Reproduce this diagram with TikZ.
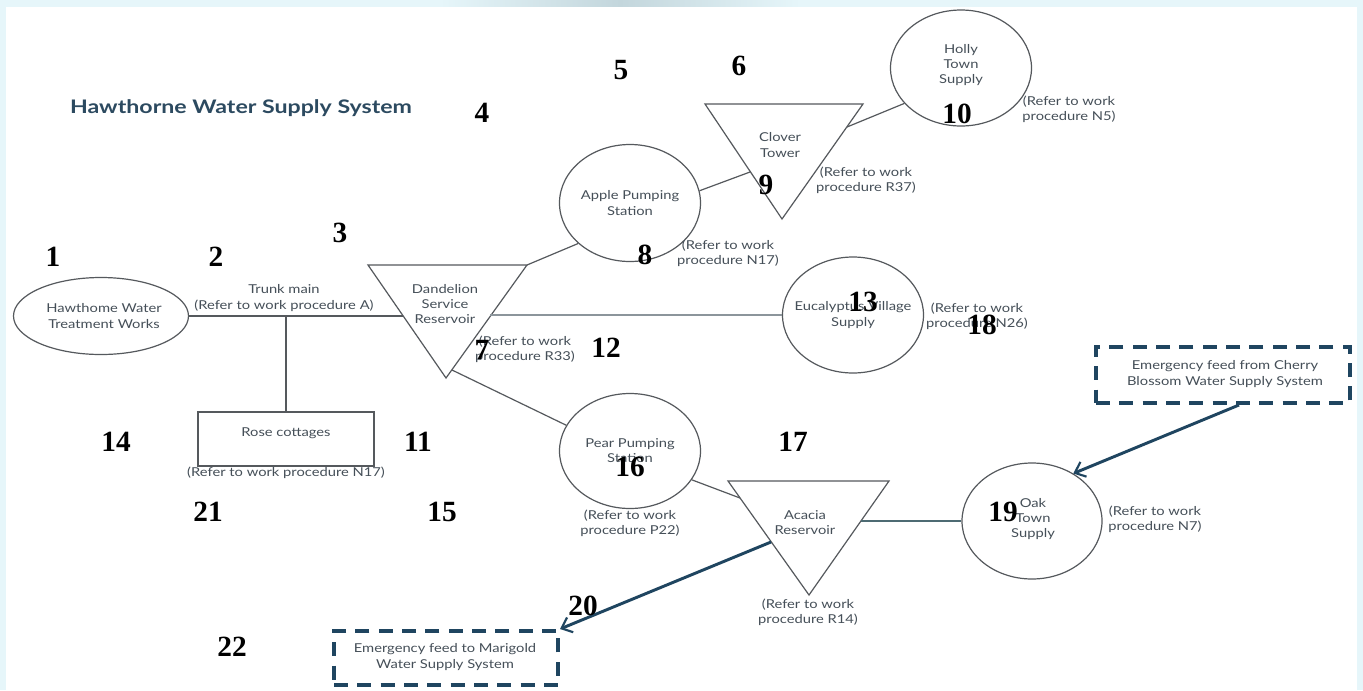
\documentclass[tikz,border=0pt]{standalone}
\usepackage{fontspec}
\setmainfont{Lato}
\newfontfamily\numfont{Liberation Serif}
\usetikzlibrary{arrows.meta,shapes.geometric}
\definecolor{txt}{HTML}{454F58}
\definecolor{edge}{HTML}{55595D}
\definecolor{lightedge}{HTML}{8C959B}
\definecolor{tealedge}{HTML}{4D6B73}
\definecolor{navy}{HTML}{1F4560}
\definecolor{titlec}{HTML}{2C4A60}
\definecolor{bgc}{HTML}{E6F6FA}
\definecolor{bandc}{HTML}{C3D6DC}
\newcommand{\sx}[1]{\scalebox{1.2}[1]{#1}}
\begin{document}
\begin{tikzpicture}[x=0.75pt,y=-0.75pt,
  lbl/.style={font=\fontsize{9.2}{11.3}\selectfont, text=txt, align=center, inner sep=0pt},
  num/.style={font=\numfont\bfseries\fontsize{22}{22}\selectfont, text=black, inner sep=0pt},
  station/.style={draw=edge, line width=0.9pt, ellipse, inner sep=0pt},
  pipe/.style={draw=edge, line width=0.9pt},
  tank/.style={draw=edge, line width=0.9pt, line join=miter},
  feedbox/.style={draw=navy, line width=3pt, dash pattern=on 10.5pt off 7pt, inner sep=0pt, fill=white},
  feedline/.style={draw=navy, line width=2.2pt, -{Straight Barb[length=7pt,width=12pt,line width=1.6pt]}}
]
\useasboundingbox (0,0) rectangle (1363,690);
% background
\fill[bgc] (0,0) rectangle (1363,690);
\shade[left color=bgc, right color=bgc, middle color=bandc] (440,0) rectangle (800,7);
\fill[white] (6,7) rectangle (1357,690);

% title
\node[font=\bfseries\fontsize{14}{15}\selectfont, text=titlec, inner sep=0pt] (title) at (241,108) {\scalebox{1.24}[1]{Hawthorne Water Supply System}};

% stations (ellipses)
\node[station, minimum width=131.25pt, minimum height=57.75pt] (hwtw) at (101,316) {};
\node[station, minimum width=105.75pt, minimum height=87.75pt] (apple) at (630,203) {};
\node[station, minimum width=105.75pt, minimum height=87pt] (holly) at (961,68) {};
\node[station, minimum width=105.75pt, minimum height=87pt] (euc) at (853,315) {};
\node[station, minimum width=105.75pt, minimum height=86.25pt] (pear) at (630,451) {};
\node[station, minimum width=105pt, minimum height=87pt] (oak) at (1032,521) {};
\node[draw=edge, line width=0.9pt, minimum width=132pt, minimum height=40.5pt, inner sep=0pt] (rose) at (286,439) {};

% reservoirs (triangles)
\coordinate (danA) at (368,265); \coordinate (danB) at (527,265); \coordinate (danC) at (446,378);
\coordinate (cloA) at (705,104); \coordinate (cloB) at (863,104); \coordinate (cloC) at (782,219);
\coordinate (acaA) at (728,481); \coordinate (acaB) at (889,481); \coordinate (acaC) at (809,595);
\draw[tank] (danA) -- (danB) -- (danC) -- cycle;
\draw[tank] (cloA) -- (cloB) -- (cloC) -- cycle;
\draw[tank] (acaA) -- (acaB) -- (acaC) -- cycle;

% connection points on triangle edges
\coordinate (danW) at (403,316);
\coordinate (danE) at (490,315);
\coordinate (danS) at (452,370);
\coordinate (cloW) at (750,172);
\coordinate (cloE) at (847,127);
\coordinate (acaW) at (740,498);
\coordinate (acaE) at (861,521);
\coordinate (acaL) at (771,542);
\coordinate (tee) at (286,316);

% emergency boxes
\node[feedbox, minimum width=190.5pt, minimum height=42pt] (cherry) at (1223,375) {};
\node[feedbox, minimum width=168pt, minimum height=40.5pt] (marigold) at (446,658) {};

% pipes
\draw[pipe] (hwtw.east) -- (danW);
\draw[pipe] (tee) -- (rose.north);
\draw[pipe] (danB) -- (apple.218);
\draw[pipe] (apple.10) -- (cloW);
\draw[pipe] (cloE) -- (holly.212);
\draw[draw=lightedge, line width=0.9pt] (danE) -- (euc.west);
\draw[pipe] (danS) -- (pear.158);
\draw[pipe] (pear.335) -- (acaW);
\draw[draw=tealedge, line width=0.9pt] (acaE) -- (oak.west);
\draw[feedline] ([xshift=12pt]cherry.south) -- (oak.49);
\draw[feedline] (acaL) -- (marigold.north east);

% texts
\node[lbl] (hwtw-t) at (104,316) {\sx{Hawthome Water}\\\sx{Treatment Works}};
\node[lbl] (trunk-t) at (284,298) {\sx{Trunk main}\\\sx{(Refer to work procedure A)}};
\node[lbl] (rose-t) at (286,433) {\sx{Rose cottages}};
\node[lbl] (rose-r) at (286,473) {\sx{(Refer to work procedure N17)}};
\node[lbl] (dan-t) at (445,304) {\sx{Dandelion}\\\sx{Service}\\\sx{Reservoir}};
\node[lbl] (dan-r) at (525,349) {\sx{(Refer to work}\\\sx{procedure R33)}};
\node[lbl] (apple-t) at (630,203) {\sx{Apple Pumping}\\\sx{Station}};
\node[lbl] (apple-r) at (728,253) {\sx{(Refer to work}\\\sx{procedure N17)}};
\node[lbl] (clo-t) at (780,145) {\sx{Clover}\\\sx{Tower}};
\node[lbl] (clo-r) at (866,180) {\sx{(Refer to work}\\\sx{procedure R37)}};
\node[lbl] (holly-t) at (961,65) {\sx{Holly}\\\sx{Town}\\\sx{Supply}};
\node[lbl] (holly-r) at (1069,109) {\sx{(Refer to work}\\\sx{procedure N5)}};
\node[lbl] (euc-t) at (853,315) {\sx{Eucalyptus Village}\\\sx{Supply}};
\node[lbl] (euc-r) at (977,316) {\sx{(Refer to work}\\\sx{procedure N26)}};
\node[lbl] (pear-t) at (630,451) {\sx{Pear Pumping}\\\sx{Station}};
\node[lbl] (pear-r) at (630,523) {\sx{(Refer to work}\\\sx{procedure P22)}};
\node[lbl] (aca-t) at (805,523) {\sx{Acacia}\\\sx{Reservoir}};
\node[lbl] (aca-r) at (808,612) {\sx{(Refer to work}\\\sx{procedure R14)}};
\node[lbl] (oak-t) at (1033,519) {\sx{Oak}\\\sx{Town}\\\sx{Supply}};
\node[lbl] (oak-r) at (1155,519) {\sx{(Refer to work}\\\sx{procedure N7)}};
\node[lbl] (cherry-t) at (1225,374) {\sx{Emergency feed from Cherry}\\\sx{Blossom Water Supply System}};
\node[lbl] (marigold-t) at (445,657) {\sx{Emergency feed to Marigold}\\\sx{Water Supply System}};

% numbers
\node[num] (n1) at (53,257) {1};
\node[num] (n2) at (216,257) {2};
\node[num] (n3) at (340,233) {3};
\node[num] (n4) at (482,113) {4};
\node[num] (n5) at (621,70) {5};
\node[num] (n6) at (739,66) {6};
\node[num] (n7) at (482,350) {7};
\node[num] (n8) at (645,255) {8};
\node[num] (n9) at (766,185) {9};
\node[num] (n10) at (957,114) {10};
\node[num] (n11) at (418,442) {11};
\node[num] (n12) at (606,348) {12};
\node[num] (n13) at (863,302) {13};
\node[num] (n14) at (116,442) {14};
\node[num] (n15) at (442,512) {15};
\node[num] (n16) at (630,467) {16};
\node[num] (n17) at (793,442) {17};
\node[num] (n18) at (982,325) {18};
\node[num] (n19) at (1003,512) {19};
\node[num] (n20) at (583,606) {20};
\node[num] (n21) at (208,512) {21};
\node[num] (n22) at (232,647) {22};
\end{tikzpicture}
\end{document}
